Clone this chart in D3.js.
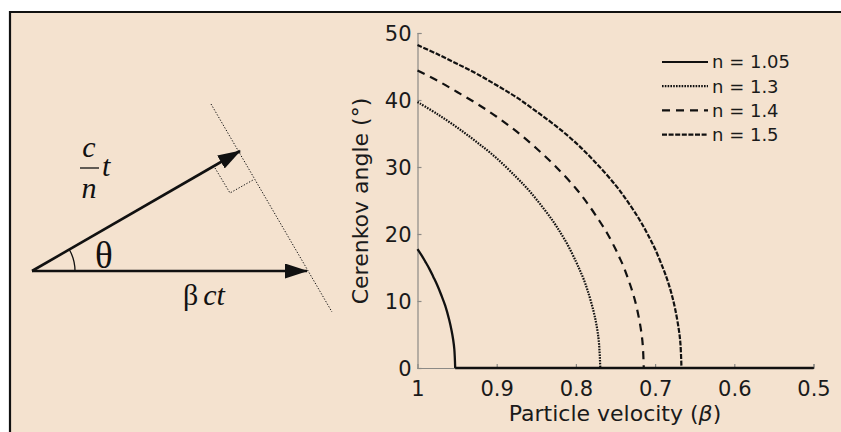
<!DOCTYPE html>
<html>
<head>
<meta charset="utf-8">
<script src="https://cdn.jsdelivr.net/npm/d3@7"></script>
<style>
  body { margin: 0; background: #fff; }
  svg { display: block; }
</style>
</head>
<body>
<div id="chart"></div>
<script>
// Cerenkov angle vs particle velocity
const betaTicks = [1, 0.9, 0.8, 0.7, 0.6, 0.5];
const angleTicks = [0, 10, 20, 30, 40, 50];

const seriesNames = ["n = 1.05", "n = 1.3", "n = 1.4", "n = 1.5"];

// each curve runs from beta = 1 down to its threshold, then stays at 0 until beta = 0.5
const beta105 = [1, 0.995, 0.99, 0.985, 0.98, 0.975, 0.97, 0.965, 0.96, 0.957, 0.955, 0.9535, 0.9524];
const angle105 = [17.75, 16.85, 15.85, 14.8, 13.6, 12.35, 10.9, 9.3, 7.2, 5.6, 4.25, 2.8, 0];

const beta13 = [1, 0.975, 0.95, 0.925, 0.9, 0.875, 0.86, 0.845, 0.83, 0.82, 0.81, 0.8, 0.795, 0.79, 0.785, 0.778, 0.774, 0.771, 0.7692];
const angle13 = [39.7, 37.9, 35.9, 33.7, 31.3, 28.45, 26.6, 24.45, 22.1, 20.3, 18.3, 15.9, 14.6, 13.2, 11.5, 8.6, 6.4, 3.9, 0];

const beta14 = [1, 0.975, 0.95, 0.925, 0.9, 0.875, 0.85, 0.825, 0.8, 0.785, 0.77, 0.76, 0.75, 0.745, 0.74, 0.735, 0.73, 0.725, 0.72, 0.717, 0.7155, 0.7143];
const angle14 = [44.4, 42.9, 41.2, 39.45, 37.5, 35.3, 32.8, 30.0, 26.8, 24.5, 21.9, 20.0, 17.75, 16.5, 15.2, 13.6, 11.9, 9.9, 7.2, 5.0, 3.3, 0];

const beta15 = [1, 0.975, 0.95, 0.925, 0.9, 0.875, 0.85, 0.825, 0.8, 0.775, 0.75, 0.735, 0.72, 0.71, 0.7, 0.69, 0.685, 0.68, 0.675, 0.67, 0.668, 0.6667];
const angle15 = [48.2, 46.85, 45.4, 43.9, 42.2, 40.4, 38.3, 36.1, 33.6, 30.65, 27.3, 24.9, 22.2, 20.1, 17.75, 14.9, 13.3, 11.4, 9.0, 5.7, 3.6, 0];

const seriesBeta = [beta105, beta13, beta14, beta15];
const seriesAngle = [angle105, angle13, angle14, angle15];
const seriesDash = [null, "1.6,1.2", "8,6", "5,1.6"];
const betaEnd = 0.5;

const width = 841;
const height = 432;
const bg = "#f4e2cf";
const ink = "#111";
const axisGrey = "#8c8a86";
const sans = "'DejaVu Sans', sans-serif";
const serif = "'Liberation Serif', 'DejaVu Serif', serif";

const svg = d3.select("#chart").append("svg")
    .attr("width", width)
    .attr("height", height);

// panel background with black top/left border
svg.append("rect").attr("x", 9).attr("y", 11)
    .attr("width", width - 9).attr("height", height - 11)
    .attr("fill", bg);
svg.append("line").attr("x1", 9).attr("x2", width).attr("y1", 12).attr("y2", 12)
    .attr("stroke", ink).attr("stroke-width", 2.2);
svg.append("line").attr("x1", 10).attr("x2", 10).attr("y1", 11).attr("y2", height)
    .attr("stroke", ink).attr("stroke-width", 2.2);

// ---------- left: wavefront diagram ----------
const diag = svg.append("g");
const origin = [32, 271];

diag.append("defs").append("marker")
    .attr("id", "head")
    .attr("viewBox", "0 0 23 15")
    .attr("refX", 22).attr("refY", 7.5)
    .attr("markerUnits", "userSpaceOnUse")
    .attr("markerWidth", 23).attr("markerHeight", 15)
    .attr("orient", "auto")
    .append("path")
    .attr("d", "M0,0 L23,7.5 L0,15 Z")
    .attr("fill", ink);

// dotted wavefront and right-angle mark
diag.append("line")
    .attr("x1", 211).attr("y1", 104).attr("x2", 332).attr("y2", 312)
    .attr("stroke", ink).attr("stroke-width", 1)
    .attr("stroke-dasharray", "1.3,1.7");
diag.append("path")
    .attr("d", "M215,168 L230,193 L253,180")
    .attr("fill", "none").attr("stroke", ink).attr("stroke-width", 1)
    .attr("stroke-dasharray", "1.3,1.7");

// arrows
diag.append("line")
    .attr("x1", origin[0]).attr("y1", origin[1]).attr("x2", 307).attr("y2", origin[1])
    .attr("stroke", ink).attr("stroke-width", 2.6)
    .attr("marker-end", "url(#head)");
diag.append("line")
    .attr("x1", origin[0]).attr("y1", origin[1]).attr("x2", 240).attr("y2", 151)
    .attr("stroke", ink).attr("stroke-width", 2.6)
    .attr("marker-end", "url(#head)");

// angle arc
const arcR = 43;
const arcAngle = Math.atan2(origin[1] - 151, 240 - origin[0]);
diag.append("path")
    .attr("d", `M${origin[0] + arcR},${origin[1]} A${arcR},${arcR} 0 0 0 ${origin[0] + arcR * Math.cos(arcAngle)},${origin[1] - arcR * Math.sin(arcAngle)}`)
    .attr("fill", "none").attr("stroke", ink).attr("stroke-width", 1.3);

diag.append("text").attr("x", 95).attr("y", 268)
    .attr("font-family", serif).attr("font-size", 37).attr("fill", ink)
    .text("θ");

const bct = diag.append("text").attr("x", 183).attr("y", 305)
    .attr("font-family", serif).attr("font-size", 30).attr("fill", ink);
bct.append("tspan").text("β");
bct.append("tspan").attr("dx", 5).attr("font-style", "italic").text("ct");

// c/n t fraction
diag.append("text").attr("x", 89).attr("y", 157).attr("text-anchor", "middle")
    .attr("font-family", serif).attr("font-style", "italic").attr("font-size", 30).attr("fill", ink)
    .text("c");
diag.append("line").attr("x1", 80).attr("x2", 99).attr("y1", 168).attr("y2", 168)
    .attr("stroke", ink).attr("stroke-width", 1.3);
diag.append("text").attr("x", 89).attr("y", 198).attr("text-anchor", "middle")
    .attr("font-family", serif).attr("font-style", "italic").attr("font-size", 30).attr("fill", ink)
    .text("n");
diag.append("text").attr("x", 102).attr("y", 176)
    .attr("font-family", serif).attr("font-style", "italic").attr("font-size", 30).attr("fill", ink)
    .text("t");

// ---------- right: angle plot ----------
const x = d3.scaleLinear().domain([1, 0.5]).range([417.5, 813.5]);
const y = d3.scaleLinear().domain([0, 50]).range([368, 33]);

const xAxis = svg.append("g")
    .attr("transform", `translate(0,${y(0)})`)
    .call(d3.axisBottom(x).tickValues(betaTicks).tickSize(-4).tickPadding(13)
        .tickFormat(d => d === 1 ? "1" : d3.format(".1f")(d)));
const yAxis = svg.append("g")
    .attr("transform", `translate(${x(1)},0)`)
    .call(d3.axisLeft(y).tickValues(angleTicks).tickSize(-4).tickPadding(6));

[xAxis, yAxis].forEach(ax => {
    ax.select(".domain").attr("stroke", axisGrey).attr("stroke-width", 1.2);
    ax.selectAll(".tick line").attr("stroke", axisGrey).attr("stroke-width", 1.2);
    ax.selectAll(".tick text")
        .attr("font-family", sans).attr("font-size", 21).attr("fill", "#1a1a1a");
});
xAxis.selectAll(".tick line").filter(d => d === 1).remove();
yAxis.selectAll(".tick text").attr("dy", "0.36em");

const curve = d3.line()
    .x(d => x(d[0]))
    .y(d => y(d[1]))
    .curve(d3.curveCatmullRom.alpha(0.5));

// draw n=1.05 last so the solid zero line lies on top
const order = [3, 2, 1, 0];
order.forEach(i => {
    const pts = d3.zip(seriesBeta[i], seriesAngle[i]);
    const last = pts[pts.length - 1];
    const g = svg.append("g")
        .attr("fill", "none")
        .attr("stroke", ink)
        .attr("stroke-width", i === 0 ? 2.3 : 2.2)
        .attr("stroke-dasharray", seriesDash[i]);
    g.append("path").datum(pts).attr("d", curve);
    g.append("line")
        .attr("x1", x(last[0])).attr("y1", y(last[1]))
        .attr("x2", x(betaEnd)).attr("y2", y(0));
});

// legend
const legend = svg.append("g");
seriesNames.forEach((name, i) => {
    const ly = 62 + i * 24.2;
    legend.append("line")
        .attr("x1", 662).attr("x2", 708).attr("y1", ly).attr("y2", ly)
        .attr("stroke", ink).attr("stroke-width", 2.2)
        .attr("stroke-dasharray", seriesDash[i]);
    legend.append("text")
        .attr("x", 712).attr("y", ly).attr("dy", "0.36em")
        .attr("font-family", sans).attr("font-size", 18).attr("fill", "#1a1a1a")
        .text(name);
});

// axis titles
const xTitle = svg.append("text")
    .attr("x", 615).attr("y", 421).attr("text-anchor", "middle")
    .attr("font-family", sans).attr("font-size", 22).attr("fill", "#1a1a1a");
xTitle.append("tspan").text("Particle velocity (");
xTitle.append("tspan").attr("font-style", "italic").text("β");
xTitle.append("tspan").text(")");

svg.append("text")
    .attr("transform", `translate(368,201) rotate(-90)`)
    .attr("text-anchor", "middle")
    .attr("font-family", sans).attr("font-size", 22).attr("fill", "#1a1a1a")
    .text("Cerenkov angle (°)");
</script>
</body>
</html>
